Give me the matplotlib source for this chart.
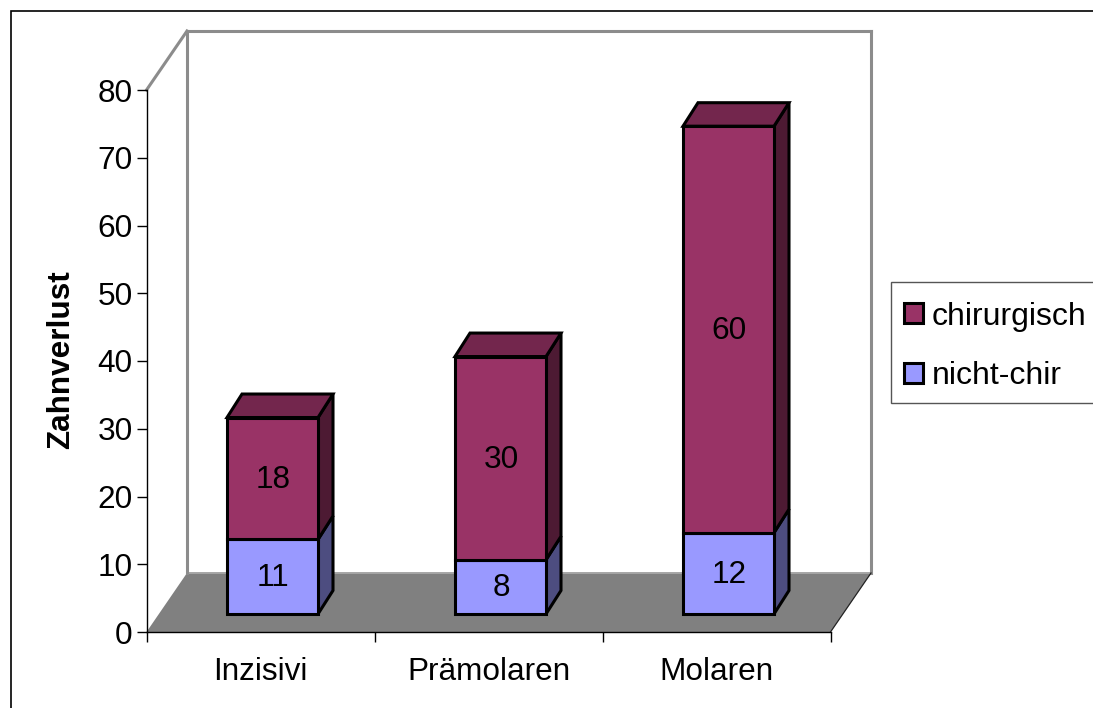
import matplotlib
matplotlib.use("Agg")
import matplotlib.pyplot as plt
from matplotlib.patches import Patch, Rectangle

categories = ["Inzisivi", "Prämolaren", "Molaren"]
nicht_chir = [11, 8, 12]
chirurgisch = [18, 30, 60]
y_ticks = [0, 10, 20, 30, 40, 50, 60, 70, 80]

W, H = 1093, 708
plt.rcParams["font.family"] = ["Liberation Sans", "DejaVu Sans"]
FS = 22.7
fig = plt.figure(figsize=(W / 100, H / 100), dpi=100, facecolor="white")
L, R, T, B = 146.5, 830.5, 90, 632
ax = fig.add_axes([L / W, 1 - B / H, (R - L) / W, (B - T) / H])
ax.patch.set_visible(False)
ax.set_xlim(0, 3)
ax.set_ylim(0, 80)
ux = (R - L) / 3          # pixels per category
uy = (B - T) / 80         # pixels per value

# 3-D offsets, pixels converted to data units
wall_dx, wall_dy = 40.5 / ux, 59 / uy
bar_dx, bar_dy = 15 / ux, 23.5 / uy
base_dx, base_dy = 12 / ux, 18 / uy
bar_w = 91 / ux

# figure frame
fig.add_artist(Rectangle((11 / W, -0.05), 1.1, 1.05 - 11.5 / H, transform=fig.transFigure,
                         fill=False, ec="black", lw=1.2))

# floor and walls
ax.fill([0, wall_dx, 3 + wall_dx, 3], [0, wall_dy, wall_dy, 0], fc="#808080", ec="none",
        zorder=1, clip_on=False)
wall = "#8c8c8c"
ax.plot([wall_dx, 3 + wall_dx], [wall_dy, wall_dy], color="#a6a6a6", lw=1.4, zorder=1.2, clip_on=False)
ax.plot([0, wall_dx], [80, 80 + wall_dy], color=wall, lw=2.2, zorder=1.2, clip_on=False)
ax.plot([wall_dx, wall_dx], [wall_dy, 80 + wall_dy], color=wall, lw=2.2, zorder=1.2, clip_on=False)
ax.plot([wall_dx, 3 + wall_dx], [80 + wall_dy, 80 + wall_dy], color=wall, lw=2.2, zorder=1.2, clip_on=False)
ax.plot([3 + wall_dx, 3 + wall_dx], [wall_dy, 80 + wall_dy], color=wall, lw=2.2, zorder=1.2, clip_on=False)
ax.plot([3, 3 + wall_dx], [0, wall_dy], color="#222222", lw=0.9, zorder=1.3, clip_on=False)

# stacked bars
series = [
    (nicht_chir, [0, 0, 0], "#9999FF", "#4D4D80", "#737399"),
    (chirurgisch, nicht_chir, "#993366", "#4D1A33", "#73264D"),
]
lw = 2.2
for vals, bots, face, side, top in series:
    for i, (v, b) in enumerate(zip(vals, bots)):
        x0 = i + 0.5 + base_dx - bar_w / 2
        x1 = x0 + bar_w
        y0 = b + base_dy
        y1 = y0 + v
        ax.fill([x1, x1 + bar_dx, x1 + bar_dx, x1], [y0, y0 + bar_dy, y1 + bar_dy, y1],
                fc=side, ec="black", lw=lw, joinstyle="miter", zorder=3, clip_on=False)
        if vals is chirurgisch:
            ax.fill([x0, x1, x1 + bar_dx, x0 + bar_dx], [y1, y1, y1 + bar_dy, y1 + bar_dy],
                    fc=top, ec="black", lw=lw, joinstyle="miter", zorder=3, clip_on=False)
        ax.bar(i + 0.5 + base_dx, v, bar_w, bottom=y0, color=face, edgecolor="black",
               linewidth=lw, zorder=4, clip_on=False)
        ax.annotate(str(v), (i + 0.5 + base_dx, y0 + v / 2), xytext=(0.3, 1.4),
                    textcoords="offset points", ha="center", va="center_baseline",
                    fontsize=FS, color="black", zorder=5)

# axes
for s in ("top", "right"):
    ax.spines[s].set_visible(False)
for s in ("left", "bottom"):
    ax.spines[s].set_linewidth(1.0)
    ax.spines[s].set_color("black")
    ax.spines[s].set_zorder(2)
ax.set_yticks(y_ticks)
ax.tick_params(axis="y", length=7, width=1, pad=3, labelsize=FS)
ax.set_xticks([0, 1, 2, 3])
ax.set_xticklabels([])
ax.tick_params(axis="x", which="major", length=7, width=1)
ax.set_xticks([0.5, 1.5, 2.5], minor=True)
ax.set_xticklabels(categories, minor=True, fontsize=FS)
ax.tick_params(axis="x", which="minor", length=0, pad=17.8)
ax.set_ylabel("Zahnverlust", fontsize=FS, fontweight="bold")
ax.yaxis.set_label_coords((76 - L) / (R - L), (B - 360) / (B - T))

# legend
fig.add_artist(Rectangle((890.6 / W, 1 - 403 / H), 0.3, 121 / H, transform=fig.transFigure,
                         fc="white", ec="#555555", lw=1.0))
handles = [Patch(fc="#993366", ec="black", lw=2.2, label="chirurgisch"),
           Patch(fc="#9999FF", ec="black", lw=2.2, label="nicht-chir")]
leg = fig.legend(handles=handles, loc="upper left", bbox_to_anchor=(904 / W, 1 - 301.5 / H),
                 bbox_transform=fig.transFigure, fontsize=23, frameon=False,
                 borderaxespad=0, borderpad=0, labelspacing=0.93, handlelength=0.6,
                 handleheight=0.6, handletextpad=0.27)

fig.savefig("out.png", dpi=100)
